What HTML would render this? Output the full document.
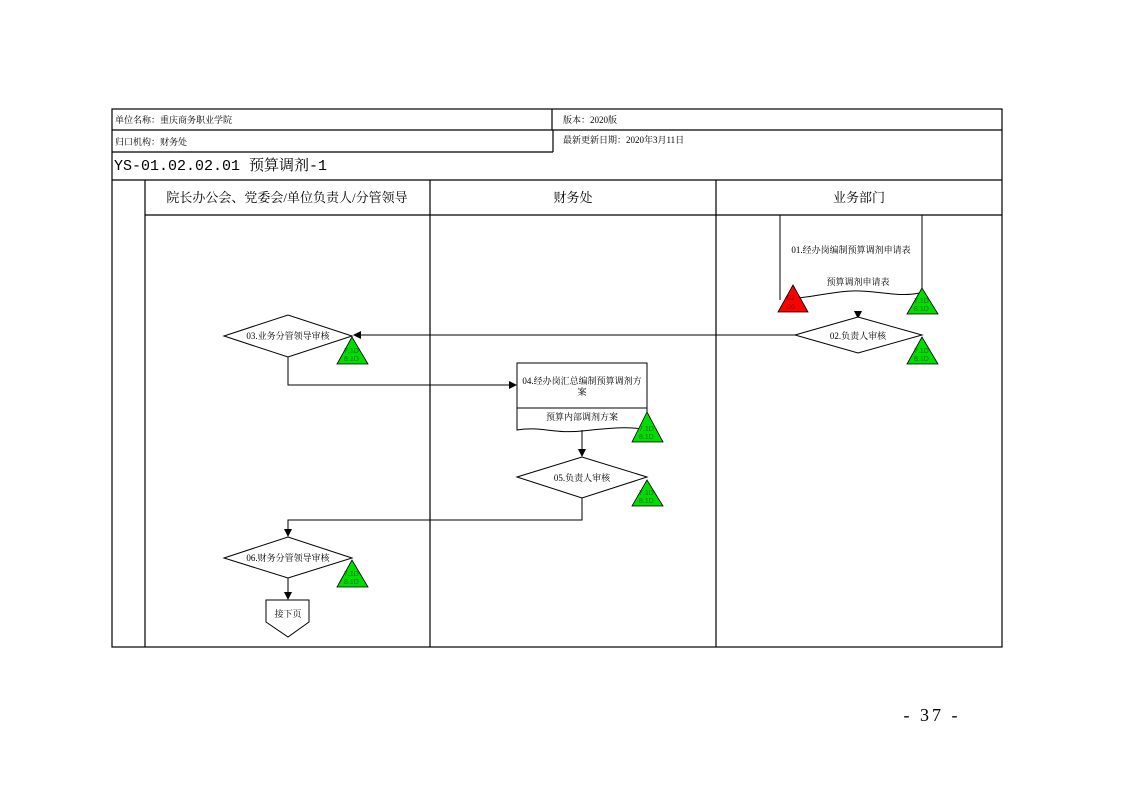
<!DOCTYPE html>
<html><head><meta charset="utf-8"><style>
html,body{margin:0;padding:0;background:#fff;}
svg{display:block;}
text{font-family:"Liberation Serif","Noto Serif CJK SC","Noto Sans CJK SC",serif;fill:#000;}
.s{font-size:9px;}
.t{font-size:9px;font-family:"Liberation Sans",sans-serif;fill:#1a6a1a;}
</style></head><body>
<svg width="1123" height="794" viewBox="0 0 1123 794" xmlns="http://www.w3.org/2000/svg">
<defs><marker id="a" markerWidth="8" markerHeight="8" refX="7" refY="4" orient="auto" markerUnits="userSpaceOnUse"><path d="M0,0 L8,4 L0,8 z" fill="#000"/></marker></defs>
<g stroke="#000" stroke-width="1.2" fill="none">
<rect x="112" y="109" width="890" height="538"/>
<line x1="112" y1="130" x2="1002" y2="130"/>
<line x1="552" y1="109" x2="552" y2="130"/>
<line x1="112" y1="152" x2="553" y2="152"/>
<line x1="553" y1="130" x2="553" y2="152"/>
<line x1="112" y1="180" x2="1002" y2="180"/>
<line x1="145" y1="215" x2="1002" y2="215" />
<line x1="145" y1="180" x2="145" y2="647"/>
<line x1="430" y1="180" x2="430" y2="647"/>
<line x1="716" y1="180" x2="716" y2="647"/>
</g>
<text class="s" x="115" y="123">单位名称：重庆商务职业学院</text>
<text class="s" x="563" y="123">版本：2020版</text>
<text class="s" x="115" y="145">归口机构：财务处</text>
<text class="s" x="563" y="143">最新更新日期：2020年3月11日</text>
<text x="114" y="170" style="font-size:15px;font-family:'Liberation Mono','Noto Serif CJK SC',monospace">YS-01.02.02.01 预算调剂-1</text>
<text x="287" y="202" text-anchor="middle" style="font-size:13px">院长办公会、党委会/单位负责人/分管领导</text>
<text x="573" y="202" text-anchor="middle" style="font-size:13px">财务处</text>
<text x="859" y="202" text-anchor="middle" style="font-size:13px">业务部门</text>

<g stroke="#000" stroke-width="1" fill="none">
<line x1="780" y1="215" x2="780" y2="300"/>
<line x1="922" y1="215" x2="922" y2="300"/>
<path d="M790,299 C820,296 840,290 860,291 C885,292 900,297 920,293"/>
<line x1="858" y1="312" x2="858" y2="318" marker-end="url(#a)"/>
<polygon points="795,335 858,317 922,335 858,353" fill="#fff"/>
<line x1="795" y1="335" x2="354" y2="335" marker-end="url(#a)"/>
<polygon points="224,336 288,315 352,336 288,357" fill="#fff"/>
<polyline points="288,357 288,385 516,385" marker-end="url(#a)"/>
<rect x="517" y="363" width="130" height="45" fill="#fff"/>
<path d="M517,408 L517,430 C540,426 555,434 582,431 C610,428 630,426 647,430 L647,408"/>
<line x1="582" y1="430" x2="582" y2="456" marker-end="url(#a)"/>
<polygon points="517,477 582,457 647,477 582,498" fill="#fff"/>
<polyline points="582,498 582,520 288,520 288,536" marker-end="url(#a)"/>
<polygon points="224,558 288,537 352,558 288,578" fill="#fff"/>
<line x1="288" y1="578" x2="288" y2="599" marker-end="url(#a)"/>
<polygon points="266,600 309,600 309,622 288,637 266,622" fill="#fff"/>
</g>
<text class="s" x="851" y="253" text-anchor="middle">01.经办岗编制预算调剂申请表</text>
<text class="s" x="858" y="285" text-anchor="middle">预算调剂申请表</text>
<text class="s" x="858" y="339" text-anchor="middle">02.负责人审核</text>
<text class="s" x="288" y="339" text-anchor="middle">03.业务分管领导审核</text>
<text class="s" x="582" y="384" text-anchor="middle">04.经办岗汇总编制预算调剂方</text>
<text class="s" x="582" y="395" text-anchor="middle">案</text>
<text class="s" x="582" y="420" text-anchor="middle">预算内部调剂方案</text>
<text class="s" x="582" y="481" text-anchor="middle">05.负责人审核</text>
<text class="s" x="288" y="561" text-anchor="middle">06.财务分管领导审核</text>
<text class="s" x="288" y="617" text-anchor="middle">接下页</text>

<g stroke="#000" stroke-width="0.8">
<polygon points="793,285 778,312 808,312" fill="#f00"/>
<polygon points="922,288 907,314 938,314" fill="#0d0"/>
<polygon points="922,337 907,364 938,364" fill="#0d0"/>
<polygon points="352,337 337,364 368,364" fill="#0d0"/>
<polygon points="647,412 632,442 663,442" fill="#0d0"/>
<polygon points="647,480 632,506 663,506" fill="#0d0"/>
<polygon points="352,560 337,587 368,587" fill="#0d0"/>
</g>
<g>
<text class="t" x="787" y="300" style="font-size:7px;fill:#800">02</text><text class="t" x="787" y="309" style="font-size:7px;fill:#800">06</text>
<text class="t" x="914" y="303" style="font-size:7px">7.1D</text><text class="t" x="914" y="311" style="font-size:7px">8.1D</text>
<text class="t" x="914" y="353" style="font-size:7px">7.1D</text><text class="t" x="914" y="361" style="font-size:7px">8.1D</text>
<text class="t" x="344" y="353" style="font-size:7px">7.1D</text><text class="t" x="344" y="361" style="font-size:7px">8.1D</text>
<text class="t" x="639" y="431" style="font-size:7px">7.1D</text><text class="t" x="639" y="439" style="font-size:7px">8.1D</text>
<text class="t" x="639" y="495" style="font-size:7px">7.1D</text><text class="t" x="639" y="503" style="font-size:7px">8.1D</text>
<text class="t" x="344" y="576" style="font-size:7px">7.1D</text><text class="t" x="344" y="584" style="font-size:7px">8.1D</text>
</g>
<text x="932" y="721" text-anchor="middle" style="font-size:18px;letter-spacing:3px">- 37 -</text>
</svg>
</body></html>
